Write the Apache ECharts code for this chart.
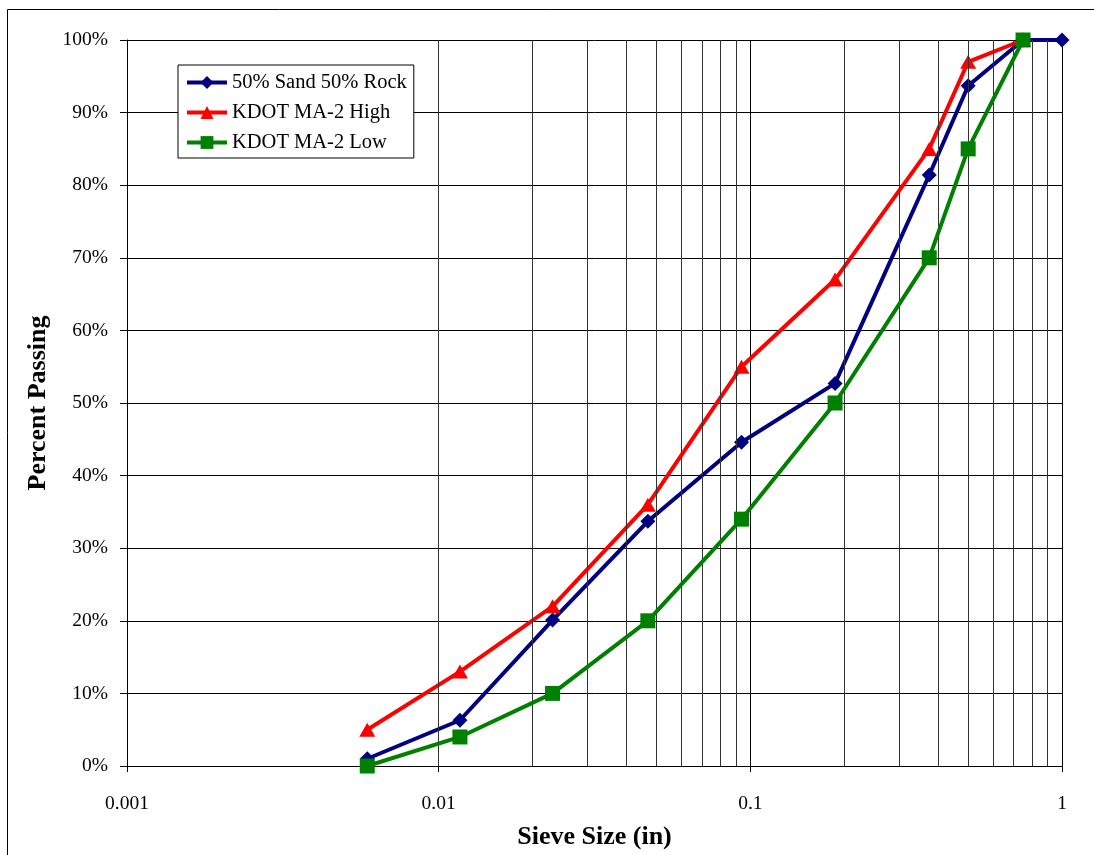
<!DOCTYPE html>
<html>
<head>
<meta charset="utf-8">
<script src="https://cdn.jsdelivr.net/npm/echarts@6/dist/echarts.min.js"></script>
<style>
html,body{margin:0;padding:0;background:#fff;}
#chart{width:1094px;height:855px;}
</style>
</head>
<body>
<div id="chart"></div>
<script>
var sieveSizes = [0.0059, 0.0117, 0.0232, 0.0469, 0.0937, 0.187, 0.375, 0.5, 0.75, 1.0];
var sandRock = [1.0, 6.3, 20.1, 33.7, 44.6, 52.7, 81.4, 93.7, 100, 100];
var kdotHigh = [5, 13, 22, 36, 55, 67, 85, 97, 100];
var kdotLow = [0, 4, 10, 20, 34, 50, 70, 85, 100];
var minorGrid = [0.002,0.003,0.004,0.005,0.006,0.007,0.008,0.009,
                 0.02,0.03,0.04,0.05,0.06,0.07,0.08,0.09,
                 0.2,0.3,0.4,0.5,0.6,0.7,0.8,0.9];
var xTickLabels = ['0.001','0.01','0.1','1'];

function pairs(vals){ return vals.map(function(v,i){ return [sieveSizes[i], v]; }); }

var font = 'Liberation Serif';
var chart = echarts.init(document.getElementById('chart'));
chart.setOption({
  animation:false,
  backgroundColor:'#fff',
  textStyle:{fontFamily:font},
  graphic:[{type:'rect', shape:{x:7.5,y:9.5,width:1200,height:1000}, style:{fill:'none',stroke:'#000',lineWidth:1}, silent:true}],
  grid:{left:127,right:32,top:40,bottom:86},
  legend:{
    left:178, top:65, orient:'vertical',
    backgroundColor:'#fff', borderColor:'#000', borderWidth:1,
    padding:[7,7,5,7], itemGap:9, itemWidth:40, itemHeight:16,
    lineStyle:{width:4},
    textStyle:{fontFamily:font, fontSize:20.5, lineHeight:21, color:'#000'},
    data:['50% Sand 50% Rock','KDOT MA-2 High','KDOT MA-2 Low']
  },
  xAxis:{
    type:'log', logBase:10, min:0.001, max:1,
    name:'Sieve Size (in)', nameLocation:'middle', nameGap:58,
    nameTextStyle:{fontFamily:font, fontSize:26, fontWeight:'bold', color:'#000'},
    axisLine:{show:true, lineStyle:{color:'#000', width:1}},
    axisTick:{show:true, length:6, inside:false, lineStyle:{color:'#000'}},
    minorTick:{show:false},
    axisLabel:{fontFamily:font, fontSize:19.5, color:'#000', margin:28,
      formatter:function(v){ var k = Math.round(Math.log10(v)); return xTickLabels[k+3]; }},
    splitLine:{show:true, lineStyle:{color:'#000', width:1}}
  },
  yAxis:{
    type:'value', min:0, max:100, interval:10,
    name:'Percent Passing', nameLocation:'middle', nameGap:74, nameRotate:90,
    nameTextStyle:{fontFamily:font, fontSize:26, fontWeight:'bold', color:'#000'},
    axisLine:{show:true, lineStyle:{color:'#000', width:1}},
    axisTick:{show:true, length:7, inside:false, lineStyle:{color:'#000'}},
    axisLabel:{fontFamily:font, fontSize:19.5, color:'#000', margin:19, formatter:'{value}%'},
    splitLine:{show:true, lineStyle:{color:'#000', width:1}}
  },
  series:[
    {
      name:'50% Sand 50% Rock', type:'line', data:pairs(sandRock),
      symbol:'diamond', symbolSize:15, color:'#000080',
      lineStyle:{width:4, color:'#000080'}, itemStyle:{color:'#000080'},
      z:3,
      markLine:{silent:true, symbol:'none', label:{show:false},
        lineStyle:{color:'#333', width:1, type:'solid'}, animation:false,
        data:minorGrid.map(function(v){ return {xAxis:v}; })}
    },
    {
      name:'KDOT MA-2 High', type:'line', data:pairs(kdotHigh),
      symbol:'triangle', symbolSize:[16,14], color:'#ff0000',
      lineStyle:{width:4, color:'#ff0000'}, itemStyle:{color:'#ff0000'}, z:4
    },
    {
      name:'KDOT MA-2 Low', type:'line', data:pairs(kdotLow),
      symbol:'rect', symbolSize:15, color:'#008000',
      lineStyle:{width:4, color:'#008000'}, itemStyle:{color:'#008000'}, z:5
    }
  ]
});
</script>
</body>
</html>
